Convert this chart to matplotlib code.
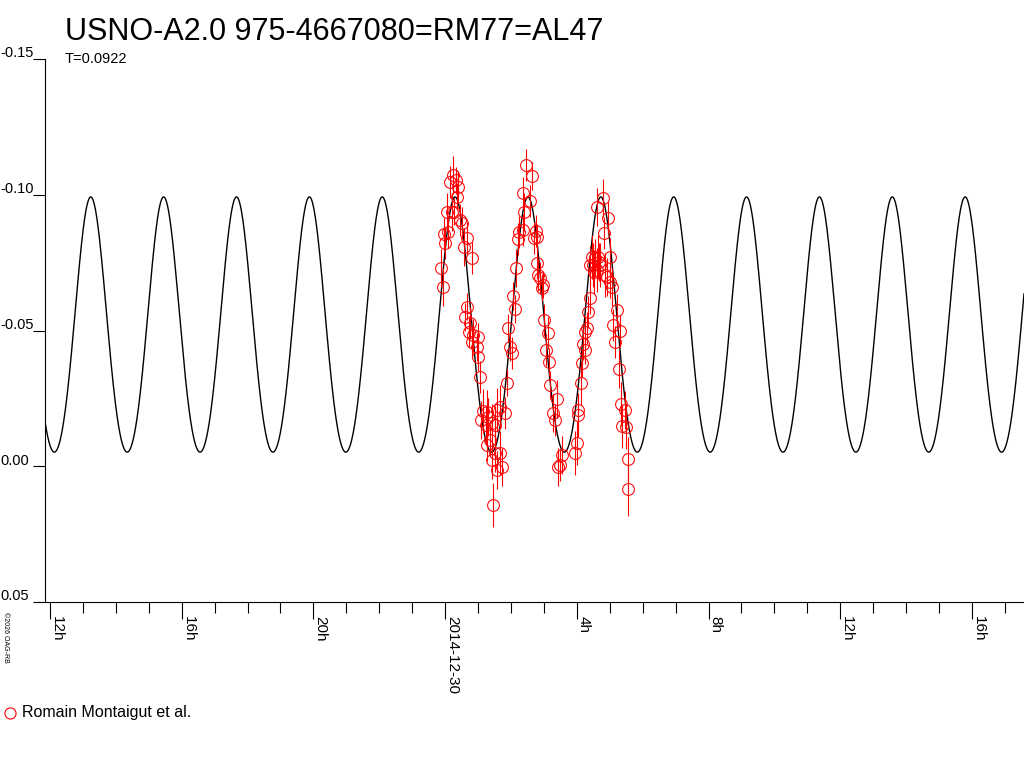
import numpy as np
import matplotlib
matplotlib.use("Agg")
from matplotlib import pyplot as plt
from matplotlib.lines import Line2D

plt.rcParams['font.family'] = ['Liberation Sans', 'DejaVu Sans']

title = "USNO-A2.0 975-4667080=RM77=AL47"
period_label = "T=0.0922"
observer = "Romain Montaigut et al."
credit = "\u00a92026 OAG-RB"

# hours from 2014-12-30 00:00 UT, magnitude offset, error
hours = [-0.122, -0.061, -0.030, 0.000, 0.091, 0.061, 0.152, 0.243, 0.334, 0.395,
         0.365, 0.213, 0.273, 0.456, 0.516, 0.668, 0.577, 0.820, 0.668, 0.608,
         0.759, 0.729, 0.851, 1.002, 0.820, 0.972, 1.002, 1.063, 1.154, 1.276,
         1.306, 1.580, 1.671, 1.823, 1.428, 1.519, 1.094, 1.245, 1.276, 1.428,
         1.519, 1.671, 1.732, 1.580, 1.458, 1.367, 1.883, 1.914, 1.975, 2.035,
         2.066, 2.126, 2.157, 2.218, 2.248, 2.369, 2.400, 2.369, 2.582, 2.461,
         2.643, 2.764, 2.704, 2.795, 2.795, 2.825, 2.886, 2.977, 2.947, 3.007,
         3.129, 3.068, 3.159, 3.190, 3.402, 3.281, 3.341, 3.554, 3.493, 3.433,
         3.949, 4.010, 4.040, 4.040, 4.131, 4.162, 4.253, 4.192, 4.253, 4.314,
         4.344, 4.405, 4.465, 4.648, 4.496, 4.708, 4.617, 4.526, 4.678, 4.405,
         4.557, 4.617, 4.800, 4.951, 4.830, 5.012, 4.860, 4.921, 5.073, 5.012,
         5.225, 5.103, 5.316, 5.164, 5.286, 5.346, 5.468, 5.377, 5.498, 5.559,
         5.559]
mags = [-0.0730, -0.0660, -0.0855, -0.0822, -0.0863, -0.0937, -0.1047, -0.1073, -0.1054, -0.1029,
        -0.0992, -0.0937, -0.0937, -0.0907, -0.0896, -0.0841, -0.0808, -0.0767, -0.0587, -0.0550,
        -0.0528, -0.0495, -0.0483, -0.0476, -0.0458, -0.0439, -0.0402, -0.0329, -0.0204, -0.0200,
        -0.0181, -0.0207, -0.0218, -0.0196, -0.0159, -0.0152, -0.0170, -0.0152, -0.0078, -0.0023,
        -0.0049, -0.0049, 0.0003, 0.0014, 0.0143, -0.0097, -0.0307, -0.0509, -0.0439, -0.0417,
        -0.0627, -0.0579, -0.0730, -0.0837, -0.0863, -0.0870, -0.0937, -0.1006, -0.0977, -0.1110,
        -0.1069, -0.0867, -0.0841, -0.0844, -0.0749, -0.0705, -0.0693, -0.0668, -0.0657, -0.0539,
        -0.0491, -0.0428, -0.0384, -0.0299, -0.0248, -0.0196, -0.0170, -0.0042, -0.0005, 0.0003,
        -0.0049, -0.0086, -0.0189, -0.0207, -0.0307, -0.0380, -0.0428, -0.0450, -0.0495, -0.0509,
        -0.0568, -0.0620, -0.0771, -0.0771, -0.0741, -0.0741, -0.0723, -0.0716, -0.0752, -0.0741,
        -0.0767, -0.0955, -0.0988, -0.0914, -0.0859, -0.0771, -0.0705, -0.0697, -0.0660, -0.0679,
        -0.0576, -0.0520, -0.0498, -0.0458, -0.0358, -0.0229, -0.0207, -0.0148, -0.0145, -0.0027,
        0.0084]
errs = [0.007, 0.007, 0.006, 0.006, 0.006, 0.007, 0.006, 0.007, 0.005, 0.006,
        0.005, 0.007, 0.005, 0.006, 0.006, 0.006, 0.007, 0.006, 0.005, 0.005,
        0.006, 0.006, 0.006, 0.005, 0.006, 0.005, 0.005, 0.006, 0.008, 0.008,
        0.007, 0.008, 0.008, 0.006, 0.007, 0.007, 0.007, 0.007, 0.006, 0.007,
        0.007, 0.008, 0.007, 0.007, 0.008, 0.006, 0.005, 0.005, 0.005, 0.006,
        0.005, 0.005, 0.007, 0.006, 0.006, 0.006, 0.007, 0.006, 0.006, 0.006,
        0.005, 0.006, 0.006, 0.005, 0.006, 0.006, 0.006, 0.005, 0.005, 0.006,
        0.006, 0.006, 0.005, 0.005, 0.007, 0.007, 0.006, 0.007, 0.006, 0.007,
        0.008, 0.008, 0.008, 0.006, 0.008, 0.005, 0.005, 0.006, 0.006, 0.006,
        0.006, 0.006, 0.008, 0.008, 0.008, 0.008, 0.008, 0.008, 0.007, 0.007,
        0.007, 0.007, 0.007, 0.006, 0.006, 0.007, 0.008, 0.007, 0.007, 0.006,
        0.006, 0.006, 0.006, 0.006, 0.007, 0.008, 0.007, 0.008, 0.008, 0.008,
        0.010]

# fitted model: period, epoch of maximum (hours), mean level, harmonic amplitudes
period_days = 0.0922
epoch_hours = 0.304
mean_level = -0.0492
amp1 = 0.047
amp2 = 0.003

tick_hours = [-12, -8, -4, 0, 4, 8, 12, 16]
tick_labels = ["12h", "16h", "20h", "2014-12-30", "4h", "8h", "12h", "16h"]
y_ticks = [-0.15, -0.10, -0.05, 0.00, 0.05]
y_labels = ["-0.15", "-0.10", "-0.05", "0.00", "0.05"]

fig = plt.figure(figsize=(10.24, 7.68), dpi=100)
ax = fig.add_axes([45 / 1024, 1 - 602 / 768, 1 - 45 / 1024, 543 / 768])

# model curve
t = np.linspace(-12.15, 17.58, 4000)
phase = 2 * np.pi * (t - epoch_hours) / (period_days * 24)
model = mean_level - amp1 * np.cos(phase) - amp2 * np.cos(2 * phase)
ax.plot(t, model, color='black', lw=1.0, zorder=2)

ax.errorbar(hours, mags, yerr=errs, fmt='o', mfc='none', mec='red', ecolor='red',
            ms=8.5, mew=0.75, elinewidth=0.8, capsize=0, zorder=3)

ax.set_xlim(-12.15, 17.58)
ax.set_ylim(0.05, -0.15)

for s in ['top', 'right']:
    ax.spines[s].set_visible(False)
for s in ['left', 'bottom']:
    ax.spines[s].set_linewidth(0.8)

ax.set_xticks(tick_hours)
ax.set_xticks(np.arange(-12, 18, 1), minor=True)
ax.set_xticklabels(tick_labels, rotation=-90, ha='left', fontsize=11)
ax.tick_params(axis='x', which='major', length=12, width=0.8, pad=-2)
ax.tick_params(axis='x', which='minor', length=8, width=0.8)

ax.set_yticks(y_ticks)
ax.set_yticklabels([])
ax.tick_params(axis='y', length=9, width=0.8)
for v, lab in zip(y_ticks, y_labels):
    ax.annotate(lab, xy=(0.0, v), xycoords=('figure fraction', 'data'),
                xytext=(0, -1), textcoords='offset points',
                ha='left', va='bottom', fontsize=10.5, annotation_clip=False)

fig.text(65 / 1024, 1 - 40 / 768, title, fontsize=22, ha='left', va='baseline')
fig.text(65 / 1024, 1 - 59 / 768, period_label, fontsize=10.5, ha='left', va='center')

# legend
fig.add_artist(Line2D([10 / 1024], [1 - 713 / 768], marker='o', ms=8, mfc='none',
                      mec='red', mew=0.8, ls='none'))
fig.text(22 / 1024, 1 - 713 / 768, observer, fontsize=11.5, ha='left', va='center')

fig.text(2 / 1024, 1 - 612 / 768, credit, fontsize=5, rotation=-90, ha='left', va='top')

fig.savefig('out.png', dpi=100)
